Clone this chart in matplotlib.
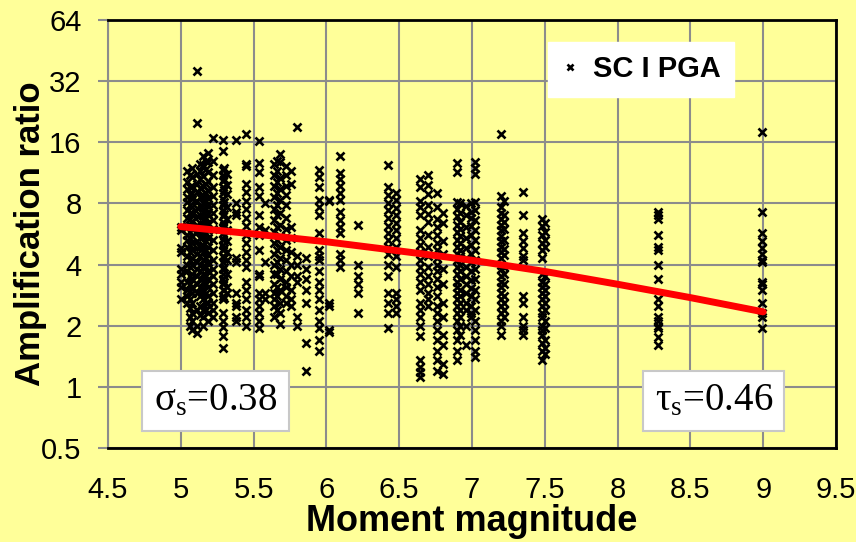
import numpy as np
import matplotlib.pyplot as plt
from matplotlib.ticker import FixedLocator, FixedFormatter

# amplification ratios of the records, grouped by event magnitude
a_500 = [6.1, 5.9, 4.8, 4.6, 3.8, 3.6, 3.3, 3.1, 2.7]
a_504 = [11.5, 10.2, 9.4, 8.6, 8.1, 7.4, 6.8, 6.2, 5.6, 5.3, 4.9, 4.4, 4.0, 3.7, 3.3, 3.0, 2.8, 2.6]
a_506 = [11.0, 9.6, 8.9, 7.9, 7.2, 6.7, 6.3, 5.8, 5.4, 5.0, 4.6, 4.2, 3.9, 3.5, 3.2, 2.95, 2.7,
         2.45, 2.2, 2.0]
a_508 = [12.0, 10.8, 9.8, 9.0, 8.4, 7.7, 7.1, 6.5, 6.0, 5.5, 5.1, 4.7, 4.3, 4.0, 3.6, 3.4, 3.1, 2.9,
         2.6, 2.3, 2.1, 1.9]
a_511 = [36, 20, 11.2, 10.0, 9.1, 8.2, 7.6, 6.9, 6.3, 5.8, 5.2, 4.8, 4.5, 4.1, 3.8, 3.5, 3.2, 2.9,
         2.4, 2.0, 1.85]
a_513 = [12.5, 11.6, 10.5, 9.5, 8.6, 7.8, 7.0, 6.4, 5.9, 5.4, 4.9, 4.4, 4.0, 3.7, 3.4, 3.1, 2.8,
         2.5, 2.25]
a_515 = [13.7, 12.3, 10.9, 9.8, 8.8, 8.0, 7.3, 6.6, 6.1, 5.5, 5.0, 4.6, 4.2, 3.9, 3.6, 3.3, 3.0,
         2.7, 2.4, 2.2, 2.0]
a_517 = [13.0, 11.8, 10.0, 9.0, 8.2, 7.5, 6.8, 6.2, 5.7, 5.2, 4.7, 4.3, 3.9, 3.5, 3.2, 2.9, 2.6, 2.4]
a_519 = [14.2, 12.8, 11.4, 10.3, 9.3, 8.5, 7.8, 7.1, 6.4, 5.9, 5.4, 4.9, 4.5, 4.1, 3.7, 3.4, 3.1,
         2.8, 2.6, 2.3, 2.1]
a_522 = [16.8, 13.0, 11.0, 9.6, 8.7, 7.9, 7.2, 6.6, 6.0, 5.3, 4.7, 4.2, 3.8, 3.5, 3.2, 2.9, 2.6,
         2.4, 2.2]
a_529 = [16.5, 14.5, 11.7, 11.0, 10.3, 9.6, 9.0, 8.4, 7.9, 7.4, 6.9, 6.5, 6.1, 5.7, 5.3, 5.0, 4.7,
         4.4, 4.1, 3.8, 3.6, 3.4, 3.2, 3.0, 2.8, 2.7, 2.3, 2.1, 1.96, 1.78, 1.55]
a_530 = [12.0, 10.6, 9.3, 8.1, 7.1, 6.3, 5.5, 4.8, 4.3, 3.9, 3.3, 3.0, 2.75]
a_532 = [11.2, 9.9, 8.9, 7.7, 6.7, 5.9, 5.2, 4.6, 4.2, 3.6, 3.1, 2.9]
a_538 = [16.5, 8.0, 7.3, 7.0, 4.3, 4.1, 2.9, 2.6, 2.5, 2.2, 2.1]
a_545 = [17.5, 12.5, 12.2, 10.0, 9.1, 8.2, 7.5, 6.8, 6.2, 5.6, 5.1, 4.6, 4.2, 3.9, 3.3, 3.0, 2.7,
         2.4, 2.2, 2.0]
a_554 = [16.3, 12.6, 11.4, 9.6, 8.7, 7.0, 6.1, 5.6, 4.7, 3.6, 3.5, 2.9, 2.7, 2.5, 2.3, 2.1, 1.95]
a_558 = [8.0, 5.9, 4.1, 2.9, 2.7]
a_564 = [12.5, 11.0, 9.7, 8.6, 7.5, 6.6, 5.8, 5.1, 4.5, 4.0, 3.6, 3.2, 2.9, 2.7, 2.5, 2.2]
a_566 = [13.0, 11.6, 10.2, 9.0, 7.9, 7.0, 6.1, 5.3, 4.7, 4.1, 3.6, 3.1, 2.8, 2.4]
a_568 = [14.0, 12.8, 10.7, 9.4, 8.3, 7.2, 6.3, 5.5, 4.9, 4.3, 3.8, 3.4, 3.0, 2.6, 2.3, 2.05]
a_572 = [12.2, 11.0, 9.8, 8.8, 7.9, 6.8, 6.0, 5.3, 4.7, 4.2, 3.7, 3.3, 3.1, 2.8, 2.6]
a_576 = [11.5, 10.0, 6.1, 5.4, 4.6, 4.0, 3.5, 3.0, 2.7, 2.5]
a_580 = [19, 4.4, 4.0, 3.5, 3.3, 2.2, 2.0]
a_586 = [4.3, 3.8, 3.4, 3.0, 2.6, 1.65, 1.2]
a_595 = [11.7, 10.8, 9.6, 8.3, 7.7, 7.0, 5.7, 4.7, 4.4, 4.2, 3.7, 3.3, 3.0, 2.7, 2.4, 2.1, 1.95,
         1.7, 1.5]
a_602 = [8.3, 8.2, 2.6, 2.5, 1.9, 1.87]
a_609 = [13.7, 11.3, 10.5, 9.7, 9.0, 8.3, 7.3, 6.6, 6.1, 5.7, 4.5, 4.2, 3.9]
a_622 = [6.3, 4.0, 3.5, 3.2, 2.9, 2.3]
a_642 = [12.3, 9.6, 8.8, 8.0, 7.4, 6.8, 6.2, 5.7, 5.3, 4.9, 4.5, 4.0, 3.5, 2.9, 2.6, 2.3, 1.95]
a_648 = [9.0, 8.3, 7.6, 7.0, 6.4, 5.9, 5.4, 4.9, 4.4, 3.9, 2.9, 2.7, 2.5, 2.3]
a_664 = [10.6, 9.6, 8.2, 7.7, 7.0, 5.9, 5.4, 5.0, 4.6, 4.2, 3.9, 3.6, 3.3, 3.0, 2.6, 2.4, 2.2,
         2.0, 1.77, 1.35, 1.25, 1.18, 1.12]
a_670 = [11.0, 9.9, 8.9, 7.9, 7.1, 6.5, 5.6, 4.9, 4.4, 3.9, 3.5, 3.2, 2.9, 2.7, 2.5]
a_676 = [9.0, 7.7, 6.7, 6.1, 5.6, 5.1, 4.7, 4.3, 4.0, 3.7, 3.4, 3.1, 2.8, 2.5, 2.3, 2.1, 1.9, 1.7,
         1.5, 1.35, 1.2]
a_680 = [7.2, 6.4, 5.2, 4.5, 3.8, 3.2, 2.6, 2.2, 1.8, 1.6, 1.3, 1.16]
a_690 = [12.6, 11.4, 8.1, 7.5, 6.9, 6.3, 5.8, 5.3, 4.9, 4.5, 4.2, 3.9, 3.6, 3.3, 3.1, 2.9, 2.7,
         2.5, 2.3, 2.1, 1.9, 1.7, 1.5, 1.35]
a_692 = [8.0, 7.2, 6.5, 6.0, 5.5, 5.1, 4.7, 4.4, 4.0, 3.7, 3.4, 3.0, 2.8, 2.6, 2.4, 2.2, 2.0, 1.8]
a_696 = [7.8, 7.0, 6.1, 5.4, 4.8, 4.3, 3.9, 3.5, 3.2, 2.9, 2.6, 2.4, 2.0, 1.6]
a_699 = [8.0, 7.3, 6.8, 6.2, 5.6, 5.0, 4.5, 4.1, 3.7, 3.35, 3.05, 2.8, 2.5, 2.3, 2.2]
a_702 = [12.8, 12.0, 11.2, 8.1, 7.4, 6.6, 5.9, 5.3, 4.7, 4.2, 3.8, 3.4, 3.0, 2.7, 2.4, 2.1, 1.9,
         1.7, 1.5, 1.4]
a_720 = [17.5, 8.7, 7.7, 7.2, 6.7, 6.3, 5.9, 5.5, 5.2, 4.9, 4.6, 4.3, 4.0, 3.8, 3.5, 3.3, 3.1,
         2.9, 2.7, 2.5, 2.3, 2.1, 2.0, 1.8]
a_722 = [8.2, 7.0, 6.5, 6.0, 5.3, 4.75, 4.45, 3.9, 3.6, 3.2, 2.8, 2.6, 2.4, 2.2]
a_735 = [9.1, 7.0, 5.7, 5.2, 4.8, 4.4, 4.2, 2.8, 2.6, 2.2, 2.0, 1.9, 1.8]
a_748 = [6.7, 6.2, 5.6, 5.1, 4.7, 4.3, 3.6, 3.3, 3.1, 2.9, 2.7, 2.5, 2.3, 2.2, 2.0, 1.9, 1.8,
         1.65, 1.5, 1.35]
a_750 = [6.4, 5.8, 5.3, 4.9, 3.5, 3.2, 3.0, 2.8, 2.6, 2.4, 2.1, 1.95, 1.7, 1.55, 1.45]
a_828 = [7.3, 7.0, 6.7, 5.6, 4.9, 4.7, 4.0, 3.4, 2.7, 2.5, 2.2, 2.1, 2.0, 1.95, 1.75, 1.6]
a_900 = [17.9, 7.3, 5.7, 5.2, 4.8, 4.5, 4.2, 4.1, 3.3, 3.2, 3.0, 2.6, 2.3, 2.2, 1.95]

columns = [(5.00, a_500), (5.04, a_504), (5.06, a_506), (5.08, a_508), (5.11, a_511),
           (5.13, a_513), (5.15, a_515), (5.17, a_517), (5.19, a_519), (5.22, a_522),
           (5.29, a_529), (5.30, a_530), (5.32, a_532), (5.38, a_538), (5.45, a_545),
           (5.54, a_554), (5.58, a_558), (5.64, a_564), (5.66, a_566), (5.68, a_568),
           (5.72, a_572), (5.76, a_576), (5.80, a_580), (5.86, a_586), (5.95, a_595),
           (6.02, a_602), (6.09, a_609), (6.22, a_622), (6.42, a_642), (6.48, a_648),
           (6.64, a_664), (6.70, a_670), (6.76, a_676), (6.80, a_680), (6.90, a_690),
           (6.92, a_692), (6.96, a_696), (6.99, a_699), (7.02, a_702), (7.20, a_720),
           (7.22, a_722), (7.35, a_735), (7.48, a_748), (7.50, a_750), (8.28, a_828),
           (8.99, a_900)]

# fitted trend
fit_mw = [5.0, 5.5, 6.0, 6.5, 7.0, 7.5, 8.0, 8.5, 9.0]
fit_amp = [6.15, 5.66, 5.18, 4.67, 4.2, 3.7, 3.2, 2.75, 2.34]

y_ticks = [0.5, 1, 2, 4, 8, 16, 32, 64]
y_labels = ['0.5', '1', '2', '4', '8', '16', '32', '64']
x_ticks = [4.5, 5, 5.5, 6, 6.5, 7, 7.5, 8, 8.5, 9, 9.5]
x_labels = ['4.5', '5', '5.5', '6', '6.5', '7', '7.5', '8', '8.5', '9', '9.5']

mw = []
amp = []
for m, vals in columns:
    for v in vals:
        mw.append(m)
        amp.append(v)

bg = '#FFFF99'
grid_c = '#8C8C8C'

plt.rcParams['font.family'] = ['Liberation Sans', 'DejaVu Sans']

fig = plt.figure(figsize=(8.56, 5.42), dpi=100, facecolor=bg)
ax = fig.add_axes([108/856, 1-448/542, 728/856, 428/542], facecolor=bg)

ax.plot(mw, amp, 'x', color='black', markersize=5.8, markeredgewidth=1.9,
        label='SC I PGA', zorder=3)
ax.plot(fit_mw, fit_amp, '-', color='#FF0000', linewidth=5, solid_capstyle='round', zorder=4)

ax.set_yscale('log', base=2)
ax.set_ylim(0.5, 64)
ax.set_xlim(4.5, 9.5)
ax.yaxis.set_major_locator(FixedLocator(y_ticks))
ax.yaxis.set_major_formatter(FixedFormatter(y_labels))
ax.yaxis.set_minor_locator(FixedLocator([]))
ax.set_xticks(x_ticks)
ax.set_xticklabels(x_labels)

ax.grid(True, color=grid_c, linewidth=1.5, zorder=0)
ax.set_axisbelow(True)

for s in ['top', 'right', 'bottom']:
    ax.spines[s].set_color('black')
    ax.spines[s].set_linewidth(2)
ax.spines['left'].set_color(grid_c)
ax.spines['left'].set_linewidth(1.5)

ax.tick_params(axis='y', which='major', length=7, width=1.5, color=grid_c,
               labelsize=21, pad=12)
ax.tick_params(axis='x', which='major', length=0, labelsize=21, pad=20)

ax.set_xlabel('Moment magnitude', fontsize=26, fontweight='bold', labelpad=0)
ax.set_ylabel('Amplification ratio', fontsize=25, fontweight='bold', labelpad=-4)

leg = ax.legend(loc='upper left', bbox_to_anchor=(0.604, 0.948), borderaxespad=0,
                frameon=True, fancybox=False, markerscale=0.65, handlelength=0.6,
                handletextpad=0.5, borderpad=0.45,
                prop={'size': 21, 'weight': 'bold'})
leg.get_frame().set_facecolor('white')
leg.get_frame().set_edgecolor('white')
leg.get_frame().set_alpha(1)

box = dict(boxstyle='square,pad=0.3', facecolor='white', edgecolor='#C8C8C8', linewidth=1.5)
ax.text(0.148, 0.11, r'$\mathregular{\sigma_s}$=0.38', transform=ax.transAxes,
        ha='center', va='center', fontsize=28, family='Liberation Serif', bbox=box, zorder=5)
ax.text(0.832, 0.11, r'$\mathregular{\tau_s}$=0.46', transform=ax.transAxes,
        ha='center', va='center', fontsize=28, family='Liberation Serif', bbox=box, zorder=5)

fig.savefig('out.png', dpi=100, facecolor=bg)
